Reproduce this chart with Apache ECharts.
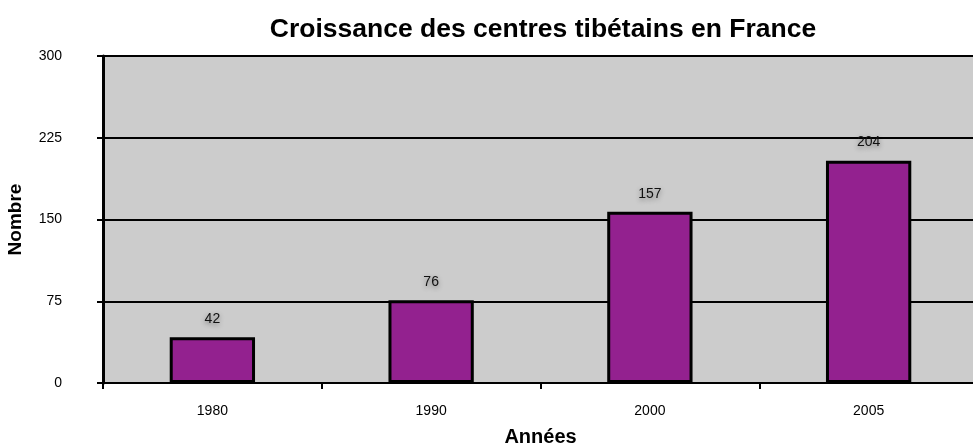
<!DOCTYPE html>
<html>
<head>
<meta charset="utf-8">
<script src="https://cdn.jsdelivr.net/npm/echarts@6/dist/echarts.min.js"></script>
<style>
  html, body { margin: 0; padding: 0; background: #fff; }
  #chart { width: 973px; height: 445px; }
</style>
</head>
<body>
<div id="chart"></div>
<script>
// données
var annees = ['1980', '1990', '2000', '2005'];
var nombres = [42, 76, 157, 204];
var yTicks = [0, 75, 150, 225, 300];

var myChart = echarts.init(document.getElementById('chart'));

var option = {
    backgroundColor: '#ffffff',
    title: {
        text: 'Croissance des centres tibétains en France',
        left: 538,
        textAlign: 'center',
        top: 11,
        textStyle: {
            fontFamily: 'Liberation Sans',
            fontSize: 26.5,
            fontWeight: 'bold',
            color: '#000'
        }
    },
    grid: {
        left: 103,
        right: -5,
        top: 56,
        bottom: 62,
        outerBoundsMode: 'none',
        show: true,
        backgroundColor: '#cccccc',
        borderWidth: 0
    },
    xAxis: {
        type: 'category',
        data: annees,
        name: 'Années',
        nameLocation: 'middle',
        nameGap: 44,
        nameTextStyle: {
            fontFamily: 'Liberation Sans',
            fontSize: 20,
            fontWeight: 'bold',
            color: '#000'
        },
        axisLine: { lineStyle: { color: '#000', width: 2 } },
        axisTick: { show: true, length: 6, lineStyle: { color: '#000', width: 2 } },
        axisLabel: {
            margin: 21,
            fontFamily: 'Liberation Sans',
            fontSize: 14,
            color: '#000'
        }
    },
    yAxis: {
        type: 'value',
        min: yTicks[0],
        max: yTicks[yTicks.length - 1],
        interval: 75,
        name: 'Nombre',
        nameLocation: 'middle',
        nameGap: 78,
        nameTextStyle: {
            fontFamily: 'Liberation Sans',
            fontSize: 19,
            fontWeight: 'bold',
            color: '#000'
        },
        axisLine: { show: true, lineStyle: { color: '#000', width: 3 } },
        axisTick: { show: true, length: 6, lineStyle: { color: '#000', width: 2 } },
        axisLabel: {
            margin: 41,
            align: 'right',
            fontFamily: 'Liberation Sans',
            fontSize: 14,
            color: '#000'
        },
        splitLine: { show: true, lineStyle: { color: '#000', width: 2 } }
    },
    series: [
        {
            type: 'bar',
            data: nombres,
            barWidth: '39%',
            itemStyle: {
                color: '#93218f',
                borderColor: '#000',
                borderWidth: 3
            },
            label: {
                show: true,
                position: 'top',
                distance: 11,
                fontFamily: 'Liberation Sans',
                fontSize: 14,
                color: '#111',
                textShadowColor: 'rgba(0,0,0,0.45)',
                textShadowBlur: 5,
                textShadowOffsetY: 2
            }
        }
    ]
};

myChart.setOption(option);
</script>
</body>
</html>
